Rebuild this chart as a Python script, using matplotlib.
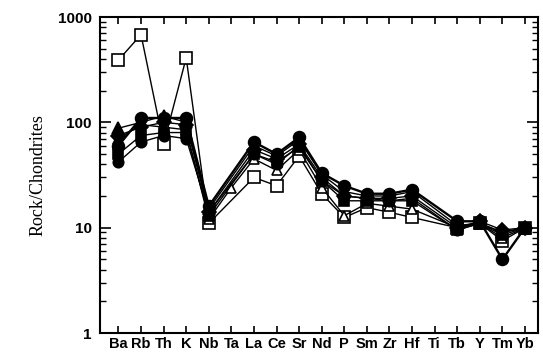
import matplotlib
matplotlib.use("Agg")
import matplotlib.pyplot as plt
from matplotlib.ticker import LogLocator, NullFormatter, FixedLocator
import numpy as np

elements = ["Ba", "Rb", "Th", "K", "Nb", "Ta", "La", "Ce", "Sr", "Nd",
            "P", "Sm", "Zr", "Hf", "Ti", "Tb", "Y", "Tm", "Yb"]

nan = np.nan
sq_open = [390, 680, 62, 410, 11, nan, 30, 25, 48, 21, 12.5, 15.5, 14, 12.5, nan, 10, 11, 7.5, 10]
tri_open = [70, 95, 90, 85, 12, 24, 45, 35, 55, 24, 13, 17, 16, 15, nan, 10, 11, 8, 10]
circ_filled = [60, 110, 110, 110, 16, nan, 65, 50, 72, 33, 25, 21, 21, 23, nan, 11.5, 11.5, 5, 10]
tri_filled = [88, 100, 115, 100, 15, nan, 60, 48, 68, 32, 22, 20, 20, 22, nan, 10.5, 11, 9, 10]
dia_filled = [75, 90, 100, 95, 14, nan, 55, 45, 62, 30, 20, 19, 19, 20, nan, 10, 11.5, 9.5, 10]
sq_filled = [50, 75, 80, 80, 13, nan, 50, 42, 58, 28, 18, 18, 18, 18, nan, 9.5, 11, 8.5, 10]
circ2_filled = [42, 65, 75, 70, 14, nan, 50, 40, 60, 28, 20, 19, 18, 19, nan, 9.5, 11, 9, 10]

series = [
    (sq_open, "s", "white", 8.5, 1.0),
    (tri_open, "^", "white", 7.5, 1.0),
    (circ2_filled, "o", "black", 7.5, 1.0),
    (sq_filled, "s", "black", 7.0, 1.0),
    (dia_filled, "D", "black", 7.0, 1.0),
    (tri_filled, "^", "black", 8.0, 1.0),
    (circ_filled, "o", "black", 8.5, 1.7),
]

fig = plt.figure(figsize=(5.43, 3.58), dpi=100)
ax = fig.add_axes([0.184, 0.0698, 0.807, 0.8827])

x = np.arange(len(elements))
for vals, mk, fc, ms, lw in series:
    v = np.array(vals, dtype=float)
    ok = ~np.isnan(v)
    ax.plot(x[ok], v[ok], color="black", lw=lw, marker=mk, markerfacecolor=fc,
            markeredgecolor="black", markeredgewidth=1.2, markersize=ms)

ax.set_yscale("log")
ax.set_ylim(1, 1000)
ax.set_xlim(-0.82, 18.58)

ax.xaxis.set_major_locator(FixedLocator(x))
ax.set_xticklabels(elements, fontfamily="Liberation Sans", fontweight="bold", fontsize=10.5)
ax.tick_params(axis="x", which="major", direction="in", length=5, width=1.2,
               top=True, bottom=True, pad=3)
ax.xaxis.set_minor_locator(FixedLocator([]))

ax.yaxis.set_minor_locator(LogLocator(base=10, subs=np.arange(2, 10), numticks=20))
ax.yaxis.set_minor_formatter(NullFormatter())
ax.set_yticks([1, 10, 100, 1000])
ax.set_yticklabels(["1", "10", "100", "1000"], fontfamily="Liberation Sans",
                   fontweight="bold", fontsize=11)
ax.tick_params(axis="y", which="major", direction="in", length=8, width=1.2,
               left=True, right=True, pad=6)
ax.tick_params(axis="y", which="minor", direction="in", length=4, width=1.0,
               left=True, right=True)

for s in ax.spines.values():
    s.set_linewidth(1.5)

ax.set_ylabel("Rock/Chondrites", fontfamily="Liberation Serif", fontsize=13, labelpad=8)

fig.savefig("out.png", dpi=100)
